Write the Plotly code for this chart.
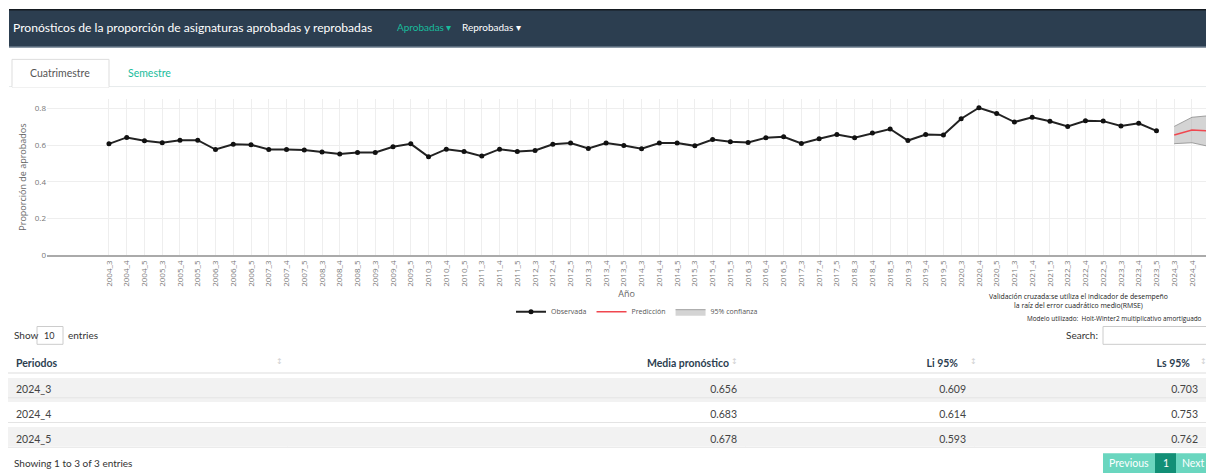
import plotly.graph_objects as go

# ---------------- data ----------------
years = [str(y) for y in range(2004, 2024)]
terms = ["3", "4", "5"]
periods_obs = [f"{y}_{t}" for y in years for t in terms]

observed = [
    0.608, 0.643, 0.625, 0.614, 0.628, 0.628, 0.577, 0.606, 0.603,
    0.577, 0.577, 0.575, 0.564, 0.553, 0.561, 0.561, 0.592, 0.608,
    0.537, 0.579, 0.566, 0.541, 0.579, 0.566, 0.572, 0.606, 0.612,
    0.583, 0.612, 0.599, 0.581, 0.612, 0.612, 0.597, 0.632, 0.619,
    0.616, 0.641, 0.647, 0.610, 0.636, 0.659, 0.641, 0.667, 0.689,
    0.626, 0.659, 0.656, 0.745, 0.805, 0.774, 0.727, 0.753, 0.731,
    0.703, 0.734, 0.732, 0.705, 0.720, 0.679,
]

periods_fc = ["2024_3", "2024_4", "2024_5"]
fc_mean = [0.656, 0.683, 0.678]
fc_low = [0.609, 0.614, 0.593]
fc_up = [0.703, 0.753, 0.762]

table_headers = ["Periodos", "Media pronóstico", "Li 95%", "Ls 95%"]
y_ticks = [0, 0.2, 0.4, 0.6, 0.8]
y_ticktext = ["0", "0.2", "0.4", "0.6", "0.8"]

# ---------------- helpers ----------------
W, H = 1206, 473
def px(x): return x / W
def py(y): return 1 - y / H

UI = "Lato, 'Open Sans', sans-serif"
CH = "'Open Sans', sans-serif"
GREEN = "#18bc9c"
DARK = "#2c3e50"

fig = go.Figure()

# forecast band
fig.add_trace(go.Scatter(x=periods_fc, y=fc_low, mode="lines",
                         line=dict(color="rgba(140,140,140,0.8)", width=1),
                         showlegend=False, hoverinfo="skip"))
fig.add_trace(go.Scatter(x=periods_fc, y=fc_up, mode="lines", fill="tonexty",
                         fillcolor="rgba(160,160,160,0.45)",
                         line=dict(color="rgba(140,140,140,0.8)", width=1),
                         name="95% confianza", legendrank=3))
fig.add_trace(go.Scatter(x=periods_fc, y=fc_mean, mode="lines",
                         line=dict(color="#f0474f", width=1.5),
                         name="Predicción", legendrank=2))
fig.add_trace(go.Scatter(x=periods_obs, y=observed, mode="lines+markers",
                         line=dict(color="#222222", width=2),
                         marker=dict(color="#111111", size=5),
                         name="Observada", legendrank=1))

# table
n = len(periods_fc)
row_fill = ["#f2f2f2" if i % 2 == 0 else "#ffffff" for i in range(n)]
fig.add_trace(go.Table(
    domain=dict(x=[px(8), 1.0], y=[py(452), py(353)]),
    columnwidth=[279, 458, 229, 232],
    header=dict(
        values=[f"<b>{h}</b>" + ("" if i == 0 else "\u00a0\u00a0\u00a0")
                for i, h in enumerate(table_headers)],
        align=["left", "right", "right", "right"],
        fill_color="white", line_color="white", height=24,
        font=dict(family=UI, size=10.5, color="#2c3e50"),
    ),
    cells=dict(
        values=[periods_fc,
                [f"{v:.3f}" for v in fc_mean],
                [f"{v:.3f}" for v in fc_low],
                [f"{v:.3f}" for v in fc_up]],
        align=["left", "right", "right", "right"],
        fill_color=[row_fill] * 4, line_color=[row_fill] * 4, height=25,
        font=dict(family=UI, size=10.5, color="#444"),
    ),
))

shapes = []
ann = []

def rect(x0, y0, x1, y1, fill, line=None, lw=0, layer="below"):
    shapes.append(dict(type="rect", xref="paper", yref="paper",
                       x0=px(x0), x1=px(x1), y0=py(y1), y1=py(y0),
                       fillcolor=fill, layer=layer,
                       line=dict(color=line or fill, width=lw)))

def hline(x0, x1, y, color, w=1, layer="below"):
    shapes.append(dict(type="line", xref="paper", yref="paper",
                       x0=px(x0), x1=px(x1), y0=py(y), y1=py(y),
                       layer=layer, line=dict(color=color, width=w)))

def text(x, y, s, size=10, color="#333", anchor="left", family=UI, **kw):
    ann.append(dict(x=px(x), y=py(y), xref="paper", yref="paper", text=s,
                    showarrow=False, xanchor=anchor, yanchor="middle",
                    font=dict(family=family, size=size, color=color), **kw))

# navbar
rect(9, 9, 1210, 48, DARK)
rect(9, 9, 1210, 10.5, "#151a20")
hline(9, 1210, 47.5, "#8796a6", 1)
text(11, 28, "Pronósticos de la proporción de asignaturas aprobadas y reprobadas",
     size=12.1, color="white")
text(395, 27, "Aprobadas ▾", size=10, color=GREEN)
text(460, 27, "Reprobadas ▾", size=10, color="white")

# tabs
hline(9, 1210, 87.5, "#e6eaeb", 1)
rect(12, 60, 109, 88, "white", "#dddddd", 1)
hline(12.5, 108.5, 87.5, "white", 1.5)
text(60, 74, "Cuatrimestre", size=10.5, color="#555", anchor="center")
text(149, 74, "Semestre", size=10.5, color=GREEN, anchor="center")

# annotations near chart
text(1078, 304,
     "Validación cruzada:se utiliza el indicador de desempeño<br>la raíz del error cuadrático medio(RMSE)",
     size=6.9, color="#222", anchor="center", family=CH)
text(1204, 322, "Modelo utilizado:  Holt-Winter2 multiplicativo amortiguado",
     size=6.4, color="#222", anchor="right", family=CH)

# datatable controls
text(12, 339, "Show", size=10, color="#333")
rect(37, 330, 63, 348, "white", "#cccccc", 1)
text(42, 339, "10", size=9, color="#333")
text(66, 339, "entries", size=10, color="#333")
text(1100, 339, "Search:", size=10, color="#333", anchor="right")
rect(1103, 330, 1215, 348, "white", "#cccccc", 1)

# header bottom line & row separators
hline(8, 1210, 377, "#dddddd", 1, layer="above")
hline(8, 1210, 402, "#e4e4e4", 1, layer="above")
hline(8, 1210, 427, "#e4e4e4", 1, layer="above")
hline(8, 1210, 452, "#e4e4e4", 1, layer="above")
for xi in [279, 735, 973, 1203]:
    text(xi, 365, "↕", size=8, color="#cfcfcf", anchor="center", family="DejaVu Sans")

# footer
text(12, 468, "Showing 1 to 3 of 3 entries", size=10, color="#333")
rect(1103, 458, 1155, 480, "#6ad6bf")
rect(1155, 458, 1176, 480, "#128f76")
rect(1176, 458, 1215, 480, "#6ad6bf")
text(1129, 468, "Previous", size=10.5, color="white", anchor="center")
text(1165.5, 468, "1", size=10.5, color="white", anchor="center")
text(1180, 468, "Next", size=10.5, color="white")

cats = periods_obs + periods_fc

fig.update_layout(
    width=W, height=H, autosize=False,
    margin=dict(l=0, r=0, t=0, b=0, pad=0),
    paper_bgcolor="white", plot_bgcolor="white",
    font=dict(family=CH, color="#555"),
    showlegend=True,
    legend=dict(orientation="h", traceorder="normal",
                x=px(637), xanchor="center", y=py(315),
                yanchor="middle", font=dict(size=7, color="#555"),
                bgcolor="rgba(0,0,0,0)", itemwidth=30),
    xaxis=dict(type="category", categoryorder="array", categoryarray=cats,
               range=[-3.49, 61.79], domain=[px(47), 1.0],
               tickangle=-90, tickfont=dict(size=8, color="#777"),
               showgrid=True, gridcolor="#eeeeee", gridwidth=1,
               showline=True, linecolor="#aaaaaa", linewidth=2,
               ticks="", zeroline=False,
               title=dict(text="Año", font=dict(size=9, color="#666"), standoff=4)),
    yaxis=dict(range=[0, 0.853], domain=[py(258), py(100)],
               tickvals=y_ticks, ticktext=y_ticktext,
               tickfont=dict(size=8, color="#777"),
               showgrid=True, gridcolor="#eeeeee", zeroline=False,
               showline=False, ticks="",
               title=dict(text="Proporción de aprobados",
                          font=dict(size=9, color="#666"), standoff=6)),
    shapes=shapes, annotations=ann,
)

fig.write_html("out.html", config={"displayModeBar": False},
               post_script="document.body.style.margin='0';document.body.style.overflow='hidden';")
